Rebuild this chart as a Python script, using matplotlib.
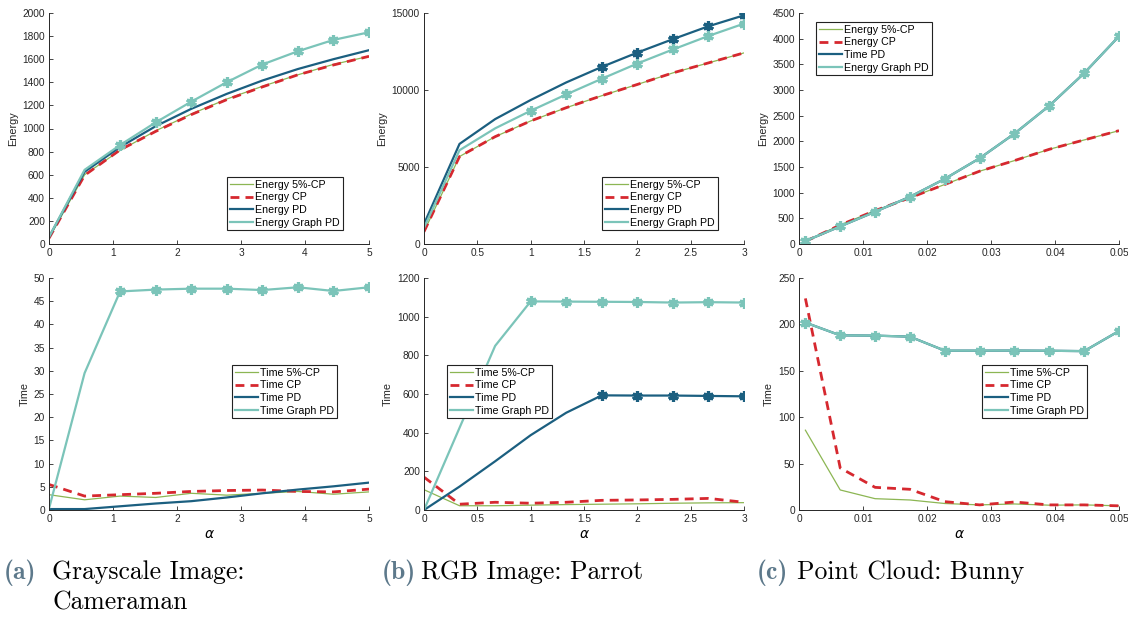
import numpy as np
import matplotlib.pyplot as plt
from matplotlib.ticker import FuncFormatter

# colours of the four methods
C_5CP = '#8cb653'
C_CP = '#d6282f'
C_PD = '#1b5f80'
C_GPD = '#7bc4b9'

# (a) grayscale image: cameraman
alpha_a = [0, 0.556, 1.111, 1.667, 2.222, 2.778, 3.333, 3.889, 4.444, 5]
energy_5cp_a = [50, 600, 810, 980, 1125, 1255, 1365, 1465, 1555, 1625]
energy_cp_a = [50, 595, 815, 975, 1120, 1250, 1360, 1465, 1550, 1625]
energy_pd_a = [60, 625, 840, 1020, 1170, 1300, 1415, 1515, 1600, 1678]
energy_gpd_a = [60, 642, 857, 1053, 1232, 1401, 1554, 1669, 1767, 1833]
time_5cp_a = [3.3, 2.2, 3.0, 2.7, 3.6, 3.2, 3.6, 4.0, 3.4, 3.9]
time_cp_a = [5.5, 3.0, 3.3, 3.6, 4.0, 4.2, 4.3, 4.0, 3.9, 4.5]
time_pd_a = [0.2, 0.2, 0.8, 1.4, 1.9, 2.7, 3.6, 4.4, 5.1, 5.9]
time_gpd_a = [0.3, 29.5, 47.1, 47.5, 47.7, 47.7, 47.4, 48.0, 47.2, 48.0]

# (b) RGB image: parrot
alpha_b = [0, 0.333, 0.667, 1, 1.333, 1.667, 2, 2.333, 2.667, 3]
energy_5cp_b = [800, 5680, 6970, 7990, 8850, 9630, 10360, 11110, 11760, 12410]
energy_cp_b = [800, 5680, 6970, 7990, 8850, 9630, 10360, 11110, 11760, 12410]
energy_pd_b = [1300, 6500, 8110, 9350, 10490, 11500, 12430, 13300, 14140, 14850]
energy_gpd_b = [1050, 6090, 7510, 8650, 9710, 10730, 11720, 12630, 13510, 14310]
time_5cp_b = [105, 22, 22, 25, 28, 30, 32, 35, 37, 38]
time_cp_b = [170, 30, 40, 35, 40, 50, 52, 55, 60, 40]
time_pd_b = [0, 121, 252, 387, 503, 593, 592, 592, 590, 588]
time_gpd_b = [0, 425, 849, 1079, 1078, 1077, 1076, 1073, 1075, 1073]

# (c) point cloud: bunny
alpha_c = [0.001, 0.00644, 0.01189, 0.01733, 0.02278, 0.02822, 0.03367, 0.03911, 0.04456, 0.05]
energy_5cp_c = [50, 370, 650, 900, 1160, 1418, 1625, 1845, 2027, 2208]
energy_cp_c = [50, 370, 650, 900, 1160, 1418, 1625, 1845, 2027, 2208]
energy_pd_c = [58, 343, 628, 919, 1269, 1670, 2150, 2694, 3328, 4047]
energy_gpd_c = [58, 343, 628, 919, 1269, 1670, 2150, 2694, 3328, 4047]
time_5cp_c = [86, 21.6, 12.2, 10.8, 7, 5.5, 6.5, 5.2, 5.5, 4.5]
time_cp_c = [228, 45.3, 24.4, 22.3, 9, 5.5, 8.6, 5.5, 5.5, 4.5]
time_pd_c = [202, 188.2, 187.9, 186.8, 171.7, 171.7, 171.8, 171.6, 171.2, 192.9]
time_gpd_c = [202, 188.2, 187.9, 186.8, 171.7, 171.7, 171.8, 171.6, 171.2, 192.9]

captions = [('(a)', ['Grayscale Image:', 'Cameraman']),
            ('(b)', ['RGB Image: Parrot']),
            ('(c)', ['Point Cloud: Bunny'])]

W, H = 1128, 617
SANS = ['Liberation Sans', 'DejaVu Sans']


def px_axes(fig, x0, y0, x1, y1):
    """
    adds axes given by pixel corners (top-left origin)
    """
    return fig.add_axes([x0 / W, 1 - y1 / H, (x1 - x0) / W, (y1 - y0) / H])


def draw_panel(ax, x, series, labels, marks, xticks, yticks, leg_box, xlabel=False, ylabel='Energy'):
    """
    draws the four curves of one panel
    :param series: [5%-CP, CP, PD, Graph PD]
    :param marks: start index of markers for PD and Graph PD (None = no markers)
    :param leg_box: legend top-left corner in pixels
    """
    ax.plot(x, series[0], color=C_5CP, lw=0.9, label=labels[0])
    ax.plot(x, series[1], color=C_CP, lw=2.0, dashes=(3.2, 2.2), label=labels[1])
    for s, c, m, lab in [(series[2], C_PD, marks[0], labels[2]), (series[3], C_GPD, marks[1], labels[3])]:
        ax.plot(x, s, color=c, lw=1.6, label=lab)
        if m is not None:
            # markers drawn apart so they stay out of the legend
            ax.plot(x[m:], s[m:], ls='none', color=c, marker=(6, 2, 0), ms=7.5, mew=2.3)

    ax.set_xlim(xticks[0], xticks[-1])
    ax.set_ylim(yticks[0], yticks[-1])
    ax.set_xticks(xticks)
    ax.set_yticks(yticks)
    ax.xaxis.set_major_formatter(FuncFormatter(lambda v, p: '%g' % round(v, 6)))
    ax.yaxis.set_major_formatter(FuncFormatter(lambda v, p: '%g' % v))
    for sp in ['top', 'right']:
        ax.spines[sp].set_visible(False)
    for sp in ['left', 'bottom']:
        ax.spines[sp].set_color('#262626')
        ax.spines[sp].set_linewidth(0.7)
    ax.tick_params(direction='in', length=3, width=0.6, labelsize=7.3, colors='#262626', pad=3)
    for t in ax.get_xticklabels() + ax.get_yticklabels():
        t.set_family(SANS)
    ax.set_ylabel(ylabel, fontsize=7.8, family=SANS, color='#262626', labelpad=3)
    if xlabel:
        ax.set_xlabel(r'$\alpha$', fontsize=10, labelpad=2)

    leg = ax.legend(loc='upper left', bbox_to_anchor=(leg_box[0] / W, 1 - leg_box[1] / H),
                    bbox_transform=ax.figure.transFigure, prop={'family': SANS, 'size': 7.7},
                    frameon=True, fancybox=False, framealpha=1, edgecolor='#222222',
                    borderpad=0.25, labelspacing=0.25, handlelength=2.2, handletextpad=0.2,
                    borderaxespad=0)
    leg.get_frame().set_linewidth(0.8)


fig = plt.figure(figsize=(W / 100, H / 100), dpi=100)

cols = [(49, 369), (424, 744), (799, 1119)]
top = (13, 244)
bot = (278, 510)

e_lab = ['Energy 5%-CP', 'Energy CP', 'Energy PD', 'Energy Graph PD']
t_lab = ['Time 5%-CP', 'Time CP', 'Time PD', 'Time Graph PD']

ax = px_axes(fig, cols[0][0], top[0], cols[0][1], top[1])
draw_panel(ax, alpha_a, [energy_5cp_a, energy_cp_a, energy_pd_a, energy_gpd_a], e_lab, (None, 2),
           np.arange(0, 6, 1), np.arange(0, 2001, 200), (227, 177))
ax = px_axes(fig, cols[1][0], top[0], cols[1][1], top[1])
draw_panel(ax, alpha_b, [energy_5cp_b, energy_cp_b, energy_pd_b, energy_gpd_b], e_lab, (5, 3),
           np.arange(0, 3.01, 0.5), np.arange(0, 15001, 5000), (602, 177))
ax = px_axes(fig, cols[2][0], top[0], cols[2][1], top[1])
draw_panel(ax, alpha_c, [energy_5cp_c, energy_cp_c, energy_pd_c, energy_gpd_c],
           ['Energy 5%-CP', 'Energy CP', 'Time PD', 'Energy Graph PD'], (None, 0),
           np.arange(0, 0.0501, 0.01), np.arange(0, 4501, 500), (816, 22))

ax = px_axes(fig, cols[0][0], bot[0], cols[0][1], bot[1])
draw_panel(ax, alpha_a, [time_5cp_a, time_cp_a, time_pd_a, time_gpd_a], t_lab, (None, 2),
           np.arange(0, 6, 1), np.arange(0, 51, 5), (232, 365), xlabel=True, ylabel='Time')
ax = px_axes(fig, cols[1][0], bot[0], cols[1][1], bot[1])
draw_panel(ax, alpha_b, [time_5cp_b, time_cp_b, time_pd_b, time_gpd_b], t_lab, (5, 3),
           np.arange(0, 3.01, 0.5), np.arange(0, 1201, 200), (447, 365), xlabel=True, ylabel='Time')
ax = px_axes(fig, cols[2][0], bot[0], cols[2][1], bot[1])
draw_panel(ax, alpha_c, [time_5cp_c, time_cp_c, time_pd_c, time_gpd_c], t_lab, (None, 0),
           np.arange(0, 0.0501, 0.01), np.arange(0, 251, 50), (982, 365), xlabel=True, ylabel='Time')

# sub-figure captions
for (tag, lines), (xt, xs) in zip(captions, [(4, 52), (382, 421), (757, 797)]):
    fig.text(xt / W, 1 - 579 / H, tag, fontsize=18.5, family=['cmb10', 'DejaVu Serif'],
             color='#5d798b', va='baseline', ha='left')
    for i, line in enumerate(lines):
        fig.text(xs / W, 1 - (579 + 30 * i) / H, line, fontsize=18.5,
                 family=['cmr10', 'DejaVu Serif'], va='baseline', ha='left')

fig.savefig('out.png', dpi=100)
